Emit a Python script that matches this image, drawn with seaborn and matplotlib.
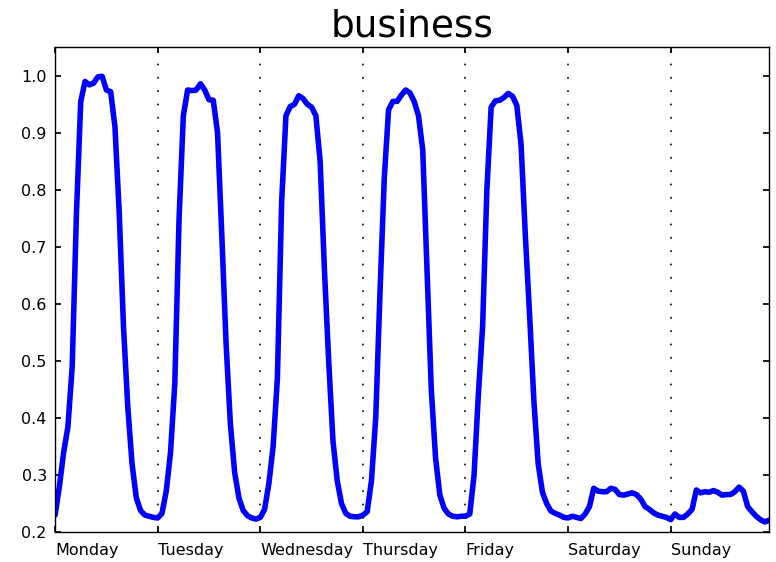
import numpy as np
import pandas as pd
import matplotlib
matplotlib.use("Agg")
import matplotlib.pyplot as plt
import seaborn as sns

# =============================================================================
# data: hourly profile for one week
# =============================================================================
days = ['Monday', 'Tuesday', 'Wednesday', 'Thursday', 'Friday', 'Saturday', 'Sunday']

monday = [0.230, 0.280, 0.340, 0.385, 0.490, 0.760, 0.955, 0.990, 0.984, 0.987, 0.998, 0.999,
          0.975, 0.972, 0.911, 0.760, 0.560, 0.420, 0.320, 0.260, 0.238, 0.230, 0.228, 0.226]
tuesday = [0.225, 0.233, 0.272, 0.340, 0.460, 0.750, 0.930, 0.975, 0.974, 0.975, 0.986, 0.975,
           0.958, 0.957, 0.900, 0.720, 0.530, 0.390, 0.305, 0.260, 0.238, 0.229, 0.225, 0.223]
wednesday = [0.226, 0.240, 0.285, 0.350, 0.470, 0.780, 0.930, 0.946, 0.950, 0.965, 0.960, 0.950,
             0.945, 0.930, 0.850, 0.660, 0.500, 0.360, 0.290, 0.250, 0.233, 0.228, 0.227, 0.227]
thursday = [0.230, 0.236, 0.290, 0.400, 0.620, 0.820, 0.940, 0.955, 0.955, 0.966, 0.975, 0.970,
            0.955, 0.930, 0.870, 0.660, 0.450, 0.330, 0.265, 0.242, 0.232, 0.228, 0.227, 0.228]
friday = [0.228, 0.232, 0.300, 0.440, 0.560, 0.800, 0.945, 0.956, 0.957, 0.962, 0.969, 0.964,
          0.948, 0.880, 0.720, 0.580, 0.430, 0.320, 0.270, 0.250, 0.237, 0.233, 0.230, 0.226]
saturday = [0.225, 0.228, 0.226, 0.224, 0.232, 0.245, 0.277, 0.272, 0.271, 0.271, 0.277, 0.275,
            0.266, 0.265, 0.267, 0.269, 0.266, 0.258, 0.245, 0.240, 0.234, 0.230, 0.228, 0.226]
sunday = [0.222, 0.232, 0.226, 0.226, 0.232, 0.240, 0.274, 0.269, 0.271, 0.270, 0.273, 0.270,
          0.265, 0.266, 0.266, 0.271, 0.279, 0.272, 0.245, 0.236, 0.228, 0.222, 0.218, 0.221]

week = monday + tuesday + wednesday + thursday + friday + saturday + sunday
df = pd.DataFrame({'hour': np.arange(len(week)), 'value': week})
day_ticks = np.arange(len(days)) * 24

# =============================================================================
# plot
# =============================================================================
sns.set_theme(style="ticks", rc={
    'xtick.direction': 'in', 'ytick.direction': 'in',
    'xtick.top': True, 'ytick.right': True,
    'xtick.major.size': 4, 'ytick.major.size': 4,
    'axes.edgecolor': 'black', 'axes.linewidth': 1.0,
    'text.color': 'black', 'xtick.color': 'black', 'ytick.color': 'black',
})
plt.rcParams['font.family'] = ['DejaVu Sans']

fig, ax = plt.subplots(figsize=(7.76, 5.62), dpi=100)
fig.subplots_adjust(left=0.071, right=0.991, top=0.916, bottom=0.053)

sns.lineplot(data=df, x='hour', y='value', color='#0000ff', linewidth=4, ax=ax)

# dotted day separators
ax.grid(axis='x', color='black', linestyle=(0, (1, 7)), linewidth=1.2)

ax.set_xlim(0, len(week) - 1)
ax.set_ylim(0.2, 1.05)
ax.set_yticks(np.arange(0.2, 1.01, 0.1))
ax.set_xticks(day_ticks)
ax.set_xticklabels(days, ha='left')
ax.tick_params(labelsize=11.5)
ax.tick_params(axis='x', pad=8)
ax.tick_params(axis='y', pad=6)
ax.set_xlabel('')
ax.set_ylabel('')
ax.set_title('business', fontsize=27, pad=8, color='black')

plt.savefig('out.png', dpi=100)
